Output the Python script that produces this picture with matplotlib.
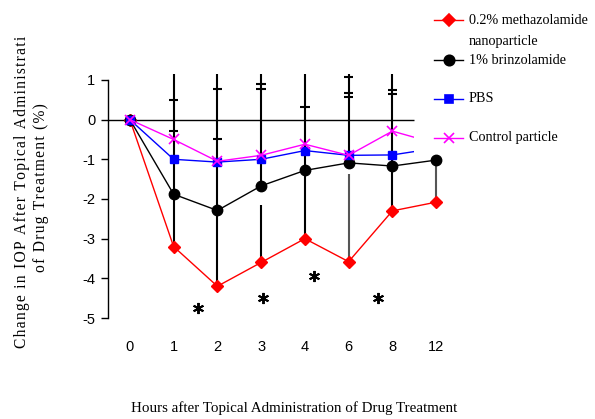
import matplotlib
matplotlib.use("Agg")
import matplotlib.pyplot as plt
from matplotlib.lines import Line2D
from matplotlib.transforms import Bbox, TransformedBbox

# ---------------- data ----------------
hours = ['0', '1', '2', '3', '4', '6', '8', '12']
metha = [0, -3.2, -4.2, -3.6, -3.0, -3.58, -2.3, -2.08]
brinz = [0, -1.88, -2.29, -1.67, -1.28, -1.09, -1.17, -1.02]
pbs = [0, -1.0, -1.07, -1.0, -0.78, -0.9, -0.89, -0.72]
ctrl = [0, -0.5, -1.05, -0.9, -0.62, -0.9, -0.29, -0.6]

# error-bar segments
err_idx = [1, 2, 3, 3, 4, 5, 5, 6, 7]
err_low = [-3.2, -4.2, -1.67, -3.6, -3.0, -1.09, -3.58, -2.3, -2.08]
err_high = [1.6, 1.6, 1.6, -2.16, 1.6, 1.6, -1.36, 1.6, -1.02]
err_gray = [False, False, False, False, False, False, True, False, True]
cap_idx = [1, 1, 2, 2, 3, 3, 4, 5, 5, 5, 6, 6]
cap_val = [0.5, -0.29, 0.78, -0.48, 0.9, 0.78, 0.31, 1.07, 0.66, 0.57, 0.75, 0.65]

star_x = [1.55, 3.05, 4.2, 5.68]
star_y = [-4.75, -4.5, -3.95, -4.5]

legend_labels = ['0.2% methazolamide', '1% brinzolamide', 'PBS', 'Control particle']
yticks = [1, 0, -1, -2, -3, -4, -5]

# ---------------- figure ----------------
W, H = 595, 419
fig = plt.figure(figsize=(W / 100, H / 100), dpi=100)

def px(x, y):
    return x / W, 1 - y / H

left, right, top, bottom = 108, 458, 74, 318
ax = fig.add_axes([left / W, 1 - bottom / H, (right - left) / W, (bottom - top) / H])
ax.set_facecolor('none')
for s in ['top', 'right', 'bottom']:
    ax.spines[s].set_visible(False)
ax.spines['left'].set_bounds(-5, 1)
ax.spines['left'].set_linewidth(1.0)

sans = ['Liberation Sans', 'DejaVu Sans']
serif = ['Liberation Serif', 'DejaVu Serif']

x = list(range(len(hours)))
ax.set_yticks(yticks)
ax.set_yticklabels([str(v) for v in yticks], family=sans, fontsize=10.5)
ax.tick_params(axis='y', direction='out', length=5, width=1, pad=4)
ax.set_xticks(x)
ax.set_xticklabels(hours, family=sans, fontsize=10.5)
ax.tick_params(axis='x', length=0, pad=16)
ax.set_xlim(-0.5, 7.5)
ax.set_ylim(-5.0, 1.15)

# zero line
ax.hlines(0, -0.5, 6.5, color='black', lw=1.0, zorder=1)

# error bars
for i, lo, hi, g in zip(err_idx, err_low, err_high, err_gray):
    ax.vlines(i, lo, hi, color='#555555' if g else 'black', lw=1.5, zorder=2)
ax.hlines(cap_val, [i - 0.11 for i in cap_idx], [i + 0.11 for i in cap_idx],
          color='black', lw=1.5, zorder=2)

# series
ax.plot(x, metha, color='red', lw=1.0, marker='D', ms=6.5, mfc='red', mec='red', zorder=3)
ax.plot(x, brinz, color='black', lw=1.0, marker='o', ms=7.5, mfc='black', mec='black', zorder=4)
clipbox = TransformedBbox(Bbox([[-0.5, -5.2], [6.5, 1.15]]), ax.transData)
l1, = ax.plot(x, pbs, color='blue', lw=1.0, marker='s', ms=5.5, mfc='blue', mec='blue', zorder=5)
l1.set_clip_box(clipbox)
l2, = ax.plot(x, ctrl, color='magenta', lw=1.0, marker='x', ms=7, mew=1.2, zorder=6)
l2.set_clip_box(clipbox)

# asterisks
ax.plot(star_x, star_y, ls='none', marker=(6, 2, 0), ms=8, mew=1.4, color='black', zorder=6)

# x label
fig.text(*px(294, 408), 'Hours after Topical Administration of Drug Treatment',
         family=serif, fontsize=10.8, ha='center', va='center')

# y label (two lines, letter spaced; first line is truncated in the original)
def spaced(s):
    return '\u200a'.join(s)

fig.text(*px(22, 348), spaced('Change in IOP After Topical Administrati'),
         family=serif, fontsize=11.2, rotation=90, ha='center', va='bottom')
fig.text(*px(41, 272), spaced('of Drug Treatment (%)'),
         family=serif, fontsize=11.2, rotation=90, ha='center', va='bottom')

# legend (manual)
leg_y = [20, 60, 99, 138]
leg_style = [('red', 'D', 6), ('black', 'o', 7.5), ('blue', 's', 5.5), ('magenta', 'x', 7)]
for yy, (c, m, ms), lab in zip(leg_y, leg_style, legend_labels):
    xs = [434 / W, 449 / W, 463 / W]
    ys = [1 - yy / H] * 3
    fig.add_artist(Line2D(xs, ys, color=c, lw=1.0, marker=m, ms=ms, mfc=c, mec=c,
                          mew=1.2, markevery=[1], transform=fig.transFigure))
    fig.text(*px(469, yy), lab, family=serif, fontsize=10.2, ha='left', va='center')
fig.text(*px(469, 42), 'nanoparticle', family=serif, fontsize=10.2, ha='left', va='center')

fig.savefig('out.png', dpi=100)
